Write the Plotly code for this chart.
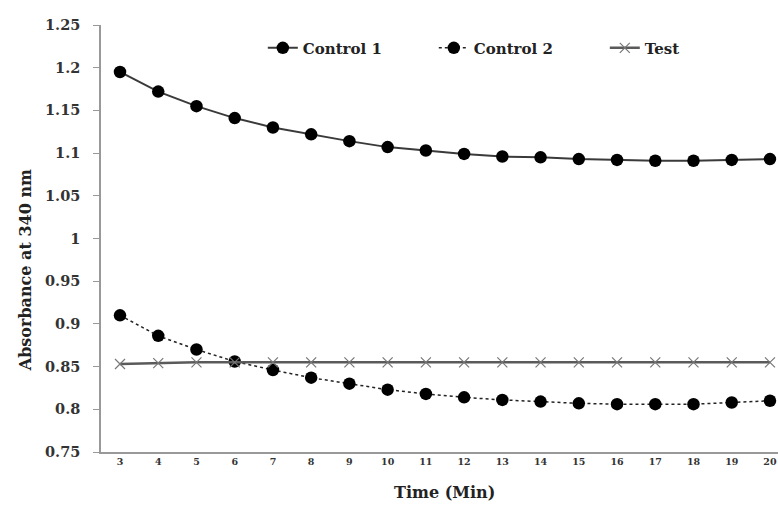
import plotly.graph_objects as go

time_min = [3, 4, 5, 6, 7, 8, 9, 10, 11, 12, 13, 14, 15, 16, 17, 18, 19, 20]
control1 = [1.195, 1.172, 1.155, 1.141, 1.130, 1.122, 1.114, 1.107, 1.103, 1.099,
            1.096, 1.095, 1.093, 1.092, 1.091, 1.091, 1.092, 1.093]
control2 = [0.910, 0.886, 0.870, 0.856, 0.846, 0.837, 0.830, 0.823, 0.818, 0.814,
            0.811, 0.809, 0.807, 0.806, 0.806, 0.806, 0.808, 0.810]
test = [0.853, 0.854, 0.855, 0.855, 0.855, 0.855, 0.855, 0.855, 0.855, 0.855,
        0.855, 0.855, 0.855, 0.855, 0.855, 0.855, 0.855, 0.855]
y_ticks = [0.75, 0.8, 0.85, 0.9, 0.95, 1.0, 1.05, 1.1, 1.15, 1.2, 1.25]
y_tick_text = ["0.75", "0.8", "0.85", "0.9", "0.95", "1", "1.05", "1.1", "1.15", "1.2", "1.25"]

font_family = "DejaVu Serif"

fig = go.Figure()
fig.add_trace(go.Scatter(
    x=time_min, y=control1, name="Control 1", mode="lines+markers",
    line=dict(color="#3a3a3a", width=2),
    marker=dict(symbol="circle", size=12.5, color="black"),
))
fig.add_trace(go.Scatter(
    x=time_min, y=control2, name="Control 2", mode="lines+markers",
    line=dict(color="#222222", width=1.5, dash="dot"),
    marker=dict(symbol="circle", size=12.5, color="black"),
))
fig.add_trace(go.Scatter(
    x=time_min, y=test, name="Test", mode="lines+markers",
    line=dict(color="#5a5a5a", width=2.5),
    marker=dict(symbol="x-thin", size=10, line=dict(color="#777777", width=1.2)),
))

fig.update_layout(
    width=778, height=512, autosize=False,
    margin=dict(l=101, r=0, t=25, b=60),
    paper_bgcolor="white", plot_bgcolor="white",
    font=dict(family=font_family, color="black"),
    showlegend=True,
    legend=dict(
        orientation="h", x=0.239, y=0.946, xanchor="left", yanchor="middle",
        font=dict(family=font_family, size=15, color="#222222", weight="bold"),
        bgcolor="rgba(0,0,0,0)", entrywidth=126, entrywidthmode="pixels",
    ),
    xaxis=dict(
        range=[2.503, 20.21], tickmode="array", tickvals=time_min,
        ticktext=[str(t) for t in time_min], automargin=False,
        showgrid=False, zeroline=False, showline=True, linecolor="#999999", linewidth=1.5,
        ticks="", tickfont=dict(size=9.5, family=font_family, weight="bold", color="#333333"),
    ),
    yaxis=dict(
        range=[0.75, 1.25], tickmode="array", tickvals=y_ticks, ticktext=y_tick_text,
        automargin=False,
        showgrid=False, zeroline=False, showline=True, linecolor="#999999", linewidth=1.5,
        ticks="outside", ticklen=6, tickcolor="#999999", ticklabelstandoff=10,
        tickfont=dict(size=14.5, family=font_family, weight="bold", color="#333333"),
    ),
    annotations=[
        dict(text="Time (Min)", xref="paper", yref="paper", x=0.508, y=-0.094,
             xanchor="center", yanchor="middle", showarrow=False,
             font=dict(size=16, family=font_family, weight="bold", color="#222222")),
        dict(text="Absorbance at 340 nm", xref="paper", yref="paper", x=-0.112, y=0.426,
             xanchor="center", yanchor="middle", showarrow=False, textangle=-90,
             font=dict(size=16, family=font_family, weight="bold", color="#222222")),
    ],
)

post_js = (
    "document.documentElement.style.margin='0';"
    "document.body.style.margin='0';"
    "document.body.style.overflow='hidden';"
    "var gd=document.getElementById('{plot_id}');"
    "Plotly.relayout(gd,{width:778,height:512});"
)

fig.write_html("out.html", config={"responsive": False, "displayModeBar": False},
               post_script=post_js)
